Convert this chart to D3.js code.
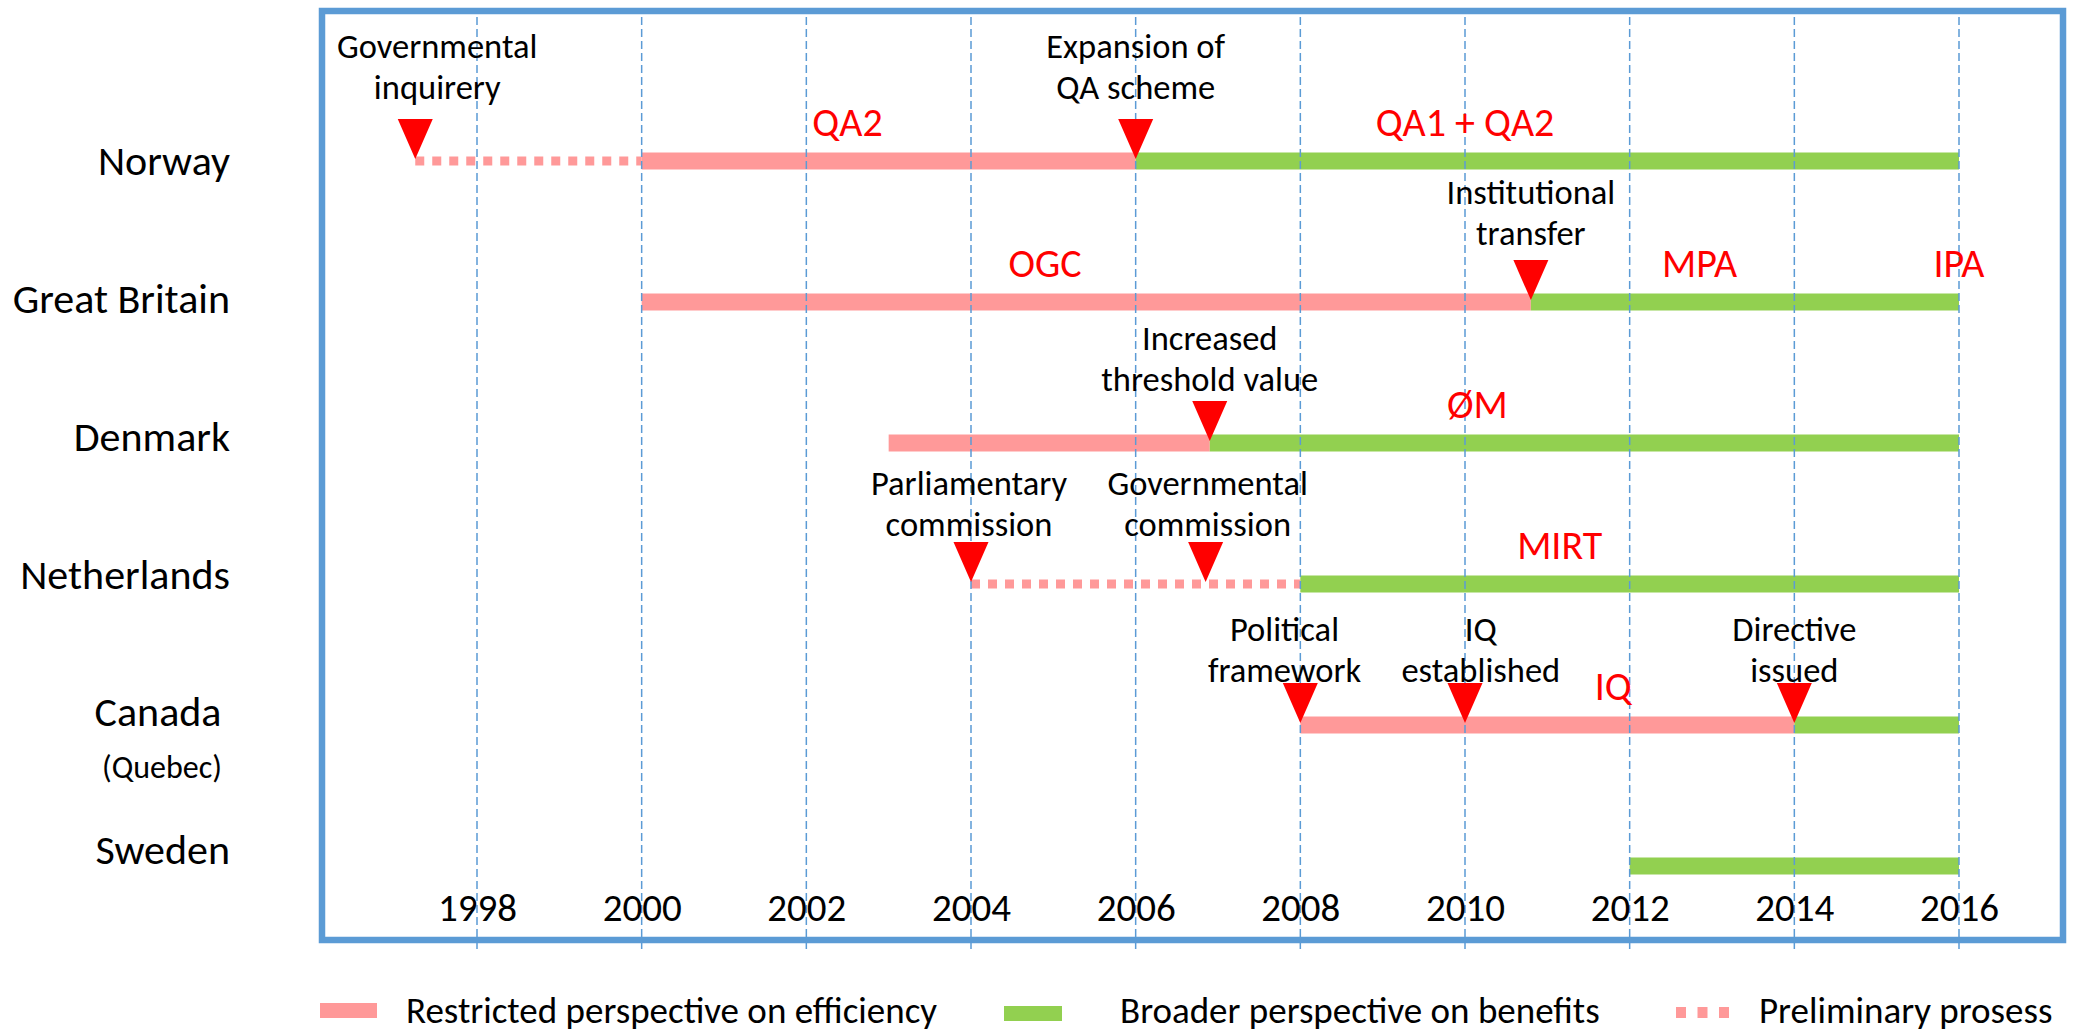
<!DOCTYPE html>
<html>
<head>
<meta charset="utf-8">
<script src="https://cdn.jsdelivr.net/npm/d3@7.9.0/dist/d3.min.js"></script>
<style>
  html, body { margin: 0; padding: 0; background: #fff; }
  svg { display: block; }
  text { font-family: Carlito, Lato, "Open Sans", sans-serif; }
</style>
</head>
<body>
<svg id="chart" width="2080" height="1032"></svg>
<script>
// rows, top to bottom
const countries = ["Norway", "Great Britain", "Denmark", "Netherlands", "Canada", "Sweden"];
const countryNotes = { Canada: "(Quebec)" };

const years = [1998, 2000, 2002, 2004, 2006, 2008, 2010, 2012, 2014, 2016];

// periods per country: restricted / broader / preliminary
const segments = [
  { country: "Norway", kind: "prelim", start: 1997.25, end: 2000 },
  { country: "Norway", kind: "restricted", start: 2000, end: 2006 },
  { country: "Norway", kind: "broader", start: 2006, end: 2016 },
  { country: "Great Britain", kind: "restricted", start: 2000, end: 2010.8 },
  { country: "Great Britain", kind: "broader", start: 2010.8, end: 2016 },
  { country: "Denmark", kind: "restricted", start: 2003, end: 2006.9 },
  { country: "Denmark", kind: "broader", start: 2006.9, end: 2016 },
  { country: "Netherlands", kind: "prelim", start: 2004, end: 2008 },
  { country: "Netherlands", kind: "broader", start: 2008, end: 2016 },
  { country: "Canada", kind: "restricted", start: 2008, end: 2014 },
  { country: "Canada", kind: "broader", start: 2014, end: 2016 },
  { country: "Sweden", kind: "broader", start: 2012, end: 2016 }
];

// red triangles with their captions
const events = [
  { country: "Norway", year: 1997.25, text: ["Governmental", "inquirery"] },
  { country: "Norway", year: 2006, text: ["Expansion of", "QA scheme"] },
  { country: "Great Britain", year: 2010.8, text: ["Institutional", "transfer"] },
  { country: "Denmark", year: 2006.9, text: ["Increased", "threshold value"] },
  { country: "Netherlands", year: 2004, text: ["Parliamentary", "commission"] },
  { country: "Netherlands", year: 2006.85, text: ["Governmental", "commission"] },
  { country: "Canada", year: 2008, text: ["Political", "framework"] },
  { country: "Canada", year: 2010, text: ["IQ", "established"] },
  { country: "Canada", year: 2014, text: ["Directive", "issued"] }
];

// red scheme names above the bars
const schemes = [
  { country: "Norway", year: 2002.5, text: "QA2" },
  { country: "Norway", year: 2010, text: "QA1 + QA2" },
  { country: "Great Britain", year: 2004.9, text: "OGC" },
  { country: "Great Britain", year: 2012.85, text: "MPA" },
  { country: "Great Britain", year: 2016, text: "IPA" },
  { country: "Denmark", year: 2010.15, text: "ØM" },
  { country: "Netherlands", year: 2011.15, text: "MIRT" },
  { country: "Canada", year: 2011.8, text: "IQ" }
];

const legendLabels = {
  restricted: "Restricted perspective on efficiency",
  broader: "Broader perspective on benefits",
  prelim: "Preliminary prosess"
};

const colors = { restricted: "#ff9999", broader: "#92d050", prelim: "#ff9999" };
const blue = "#5b9bd5";

const svg = d3.select("#chart");
svg.append("rect").attr("width", 2080).attr("height", 1032).attr("fill", "#fff");

const x = d3.scaleLinear().domain([1998, 2016]).range([477, 1959]);
const y = d3.scalePoint().domain(countries).range([161, 866]);
const yLabel = d3.scalePoint().domain(countries).range([160, 849]);
// baseline of the second caption line above each row
const yNote = d3.scalePoint().domain(countries).range([99, 828]);

const frameLeft = 322;

// frame
svg.append("rect")
  .attr("x", frameLeft).attr("y", 11)
  .attr("width", 1741).attr("height", 929)
  .attr("fill", "none")
  .attr("stroke", blue)
  .attr("stroke-width", 6.5);

// bars
svg.append("g")
  .selectAll("line")
  .data(segments)
  .join("line")
  .attr("x1", (d) => x(d.start))
  .attr("x2", (d) => x(d.end))
  .attr("y1", (d) => y(d.country))
  .attr("y2", (d) => y(d.country))
  .attr("stroke", (d) => colors[d.kind])
  .attr("stroke-width", (d) => (d.kind === "prelim" ? 9 : 17))
  .attr("stroke-dasharray", (d) => (d.kind === "prelim" ? "9,8" : null));

// dashed year lines
svg.append("g")
  .selectAll("line")
  .data(years)
  .join("line")
  .attr("x1", (d) => x(d))
  .attr("x2", (d) => x(d))
  .attr("y1", 17)
  .attr("y2", 950)
  .attr("stroke", blue)
  .attr("stroke-width", 1.5)
  .attr("stroke-dasharray", "8,4");

// triangles
svg.append("g")
  .selectAll("path")
  .data(events)
  .join("path")
  .attr("d", (d) => {
    const cx = x(d.year), tip = y(d.country) - 2;
    return `M${cx - 17.5},${tip - 40}L${cx + 17.5},${tip - 40}L${cx},${tip}Z`;
  })
  .attr("fill", "#ff0000");

// event captions
const cap = svg.append("g")
  .selectAll("text")
  .data(events)
  .join("text")
  .attr("text-anchor", "middle")
  .attr("font-size", 34.5)
  .attr("fill", "#000");
cap.append("tspan")
  .attr("x", (d) => x(d.year))
  .attr("y", (d) => yNote(d.country) - 41)
  .text((d) => d.text[0]);
cap.append("tspan")
  .attr("x", (d) => x(d.year))
  .attr("y", (d) => yNote(d.country))
  .text((d) => d.text[1]);

// keep captions inside the frame and apart from each other
d3.groups(cap.nodes(), (n) => d3.select(n).datum().country).forEach(([, nodes]) => {
  const items = nodes
    .map((n) => {
      const b = n.getBBox();
      return { n, x0: b.x, x1: b.x + b.width, dx: 0 };
    })
    .sort((a, b) => a.x0 - b.x0);
  if (items[0].x0 < frameLeft + 15) items[0].dx = frameLeft + 15 - items[0].x0;
  for (let i = 1; i < items.length; i++) {
    const p = items[i - 1], c = items[i];
    const overlap = p.x1 + p.dx + 40 - (c.x0 + c.dx);
    if (overlap > 0) {
      p.dx -= overlap / 2;
      c.dx += overlap / 2;
    }
  }
  items.forEach((it) => d3.select(it.n).attr("transform", `translate(${it.dx},0)`));
});

// scheme names
svg.append("g")
  .selectAll("text")
  .data(schemes)
  .join("text")
  .attr("x", (d) => x(d.year))
  .attr("y", (d) => y(d.country) - 25)
  .attr("text-anchor", "middle")
  .attr("font-size", 40)
  .attr("fill", "#ff0000")
  .text((d) => d.text);

// country names
svg.append("g")
  .selectAll("text")
  .data(countries)
  .join("text")
  .attr("font-size", 42)
  .attr("fill", "#000")
  .attr("text-anchor", (d) => (countryNotes[d] ? "middle" : "end"))
  .attr("x", (d) => (countryNotes[d] ? 158 : 230))
  .attr("y", (d) => yLabel(d))
  .attr("dy", "0.36em")
  .text((d) => d);

svg.append("g")
  .selectAll("text")
  .data(countries.filter((d) => countryNotes[d]))
  .join("text")
  .attr("font-size", 32)
  .attr("fill", "#000")
  .attr("text-anchor", "middle")
  .attr("x", 162)
  .attr("y", (d) => yLabel(d) + 55)
  .attr("dy", "0.36em")
  .text((d) => countryNotes[d]);

// year labels
const axis = svg.append("g")
  .attr("transform", "translate(0,921)")
  .call(d3.axisBottom(x).tickValues(years).tickFormat(d3.format("d")).tickSize(0).tickPadding(0));
axis.select(".domain").remove();
axis.attr("font-family", null).attr("font-size", null);
axis.selectAll("text")
  .attr("y", 0)
  .attr("dy", null)
  .attr("font-size", 39)
  .attr("fill", "#000");

// legend
const legend = svg.append("g");
legend.append("rect")
  .attr("x", 320).attr("y", 1003).attr("width", 57).attr("height", 15)
  .attr("fill", colors.restricted);
legend.append("rect")
  .attr("x", 1004).attr("y", 1006).attr("width", 58).attr("height", 15)
  .attr("fill", colors.broader);
legend.append("line")
  .attr("x1", 1676).attr("x2", 1730).attr("y1", 1012.5).attr("y2", 1012.5)
  .attr("stroke", colors.prelim)
  .attr("stroke-width", 11)
  .attr("stroke-dasharray", "10,11.5");

[
  { key: "restricted", x: 406 },
  { key: "broader", x: 1120 },
  { key: "prelim", x: 1759 }
].forEach((item) => {
  legend.append("text")
    .attr("x", item.x)
    .attr("y", 1023)
    .attr("font-size", 37)
    .attr("fill", "#000")
    .text(legendLabels[item.key]);
});
</script>
</body>
</html>
